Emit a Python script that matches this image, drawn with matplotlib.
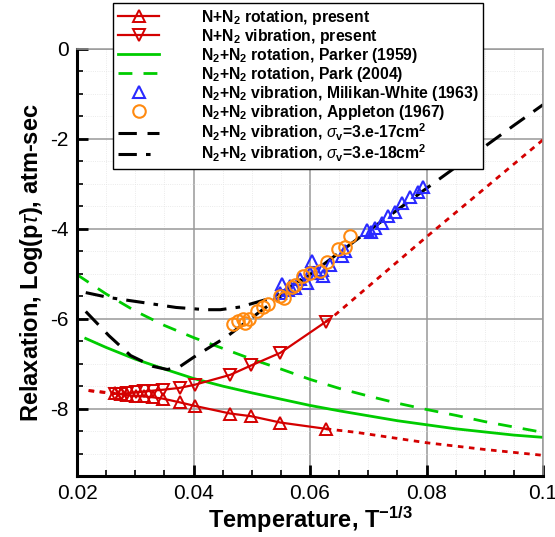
import numpy as np
import matplotlib
matplotlib.use('Agg')
import matplotlib.pyplot as plt
from matplotlib.legend_handler import HandlerLine2D
from matplotlib.ticker import MultipleLocator

plt.rcParams['font.family'] = ['Liberation Sans', 'DejaVu Sans']
plt.rcParams['mathtext.fontset'] = 'custom'
plt.rcParams['mathtext.rm'] = 'Liberation Sans'
plt.rcParams['mathtext.bf'] = 'Liberation Sans:bold'
plt.rcParams['mathtext.it'] = 'Liberation Sans:italic'

# N+N2 present results (solid with markers)
present_x = [0.0265, 0.0275, 0.0285, 0.0302, 0.0315, 0.0331, 0.0348, 0.0376, 0.0402,
             0.0463, 0.0499, 0.0549, 0.0627]
rot_y = [-7.66, -7.68, -7.70, -7.72, -7.73, -7.75, -7.78, -7.86, -7.94,
         -8.11, -8.17, -8.31, -8.45]
vib_y = [-7.67, -7.67, -7.66, -7.64, -7.62, -7.60, -7.58, -7.54, -7.47,
         -7.25, -7.04, -6.76, -6.07]

# dotted extrapolations
left_ext_x = [0.022, 0.0265]
rot_left_y = [-7.60, -7.66]
vib_left_y = [-7.60, -7.67]
rot_right_x = [0.0627, 0.068, 0.08, 0.09, 0.1]
rot_right_y = [-8.45, -8.53, -8.76, -8.91, -9.04]
vib_right_x = [0.0627, 0.064, 0.08, 0.1]
vib_right_y = [-6.07, -5.95, -4.18, -2.02]

# Parker (1959) rotation
parker_x = [0.0215, 0.025, 0.03, 0.035, 0.04, 0.045, 0.05, 0.055, 0.06, 0.065,
            0.07, 0.075, 0.08, 0.085, 0.09, 0.095, 0.1]
parker_y = [-6.44, -6.64, -6.90, -7.12, -7.33, -7.50, -7.65, -7.79, -7.93, -8.05,
            -8.16, -8.27, -8.36, -8.45, -8.52, -8.59, -8.64]

# Park (2004) rotation
park_x = [0.02, 0.025, 0.03, 0.035, 0.04, 0.045, 0.05, 0.055, 0.06, 0.065,
          0.07, 0.075, 0.08, 0.085, 0.09, 0.095, 0.1]
park_y = [-5.02, -5.45, -5.83, -6.15, -6.42, -6.66, -6.90, -7.12, -7.35, -7.55,
          -7.72, -7.88, -8.02, -8.15, -8.29, -8.41, -8.53]

# sigma_v = 3e-17 cm^2
s17_x = [0.0215, 0.0255, 0.0292, 0.033, 0.0355, 0.0375, 0.04, 0.0421, 0.0457, 0.05,
         0.055, 0.06, 0.065, 0.07, 0.075, 0.08, 0.085, 0.09, 0.095, 0.1]
s17_y = [-5.84, -6.38, -6.82, -7.06, -7.13, -7.08, -6.86, -6.69, -6.40, -5.98,
         -5.50, -5.02, -4.53, -4.05, -3.58, -3.10, -2.63, -2.17, -1.70, -1.24]

# sigma_v = 3e-18 cm^2
s18_x = [0.0215, 0.0255, 0.0313, 0.037, 0.0421, 0.0446, 0.048, 0.0531, 0.056, 0.0585]
s18_y = [-5.42, -5.53, -5.64, -5.75, -5.80, -5.80, -5.74, -5.55, -5.34, -5.12]

# Milikan-White (1963)
mw_x = [0.0549, 0.0552, 0.0562, 0.0566, 0.0574, 0.0583, 0.0595, 0.0600, 0.0603,
        0.0612, 0.0620, 0.0623, 0.0635, 0.0655, 0.0660, 0.0698, 0.0705, 0.0712,
        0.0724, 0.0734, 0.0746, 0.0758, 0.0772, 0.0786, 0.0794]
mw_y = [-5.42, -5.22, -5.36, -5.28, -5.31, -5.12, -5.20, -4.98, -4.72,
        -4.98, -4.92, -5.05, -4.80, -4.60, -4.50, -4.02, -4.08, -3.98,
        -3.87, -3.72, -3.62, -3.42, -3.30, -3.18, -3.08]

# Appleton (1967)
ap_x = [0.0468, 0.0477, 0.0485, 0.0489, 0.0495, 0.0509, 0.0519, 0.0528, 0.0549,
        0.0556, 0.0569, 0.0575, 0.0588, 0.0600, 0.0617, 0.0629, 0.0648, 0.0660, 0.0669]
ap_y = [-6.12, -6.05, -6.00, -6.10, -6.00, -5.82, -5.73, -5.68, -5.50,
        -5.55, -5.30, -5.26, -5.06, -4.98, -4.93, -4.73, -4.45, -4.40, -4.15]

red = '#d40000'
green = '#00cc00'
blue = '#2a2aff'
orange = '#ff8a10'


class EndMarker(HandlerLine2D):
    # marker at the right end of the legend line, Tecplot style
    def get_xdata(self, legend, xdescent, ydescent, width, height, fontsize):
        xdata = np.array([-xdescent, -xdescent + width])
        return xdata, np.array([-xdescent + 0.85 * width])


fig = plt.figure(figsize=(5.55, 5.37), dpi=100)
ax = fig.add_axes([77 / 555, 61 / 537, 466 / 555, 427 / 537])

ax.plot(left_ext_x, rot_left_y, color=red, lw=2, ls=(0, (2, 2)))
ax.plot(left_ext_x, vib_left_y, color=red, lw=2, ls=(0, (2, 2)))
ax.plot(rot_right_x, rot_right_y, color=red, lw=2, ls=(0, (2, 2)))
ax.plot(vib_right_x, vib_right_y, color=red, lw=2, ls=(0, (2, 2)))

ax.plot(parker_x, parker_y, color=green, lw=2, label=r'N$_\mathbf{2}$+N$_\mathbf{2}$ rotation, Parker (1959)')
ax.plot(park_x, park_y, color=green, lw=2, ls=(0, (5, 4)),
        label=r'N$_\mathbf{2}$+N$_\mathbf{2}$ rotation, Park (2004)')

l18, = ax.plot(s18_x, s18_y, color='black', lw=2.2, ls=(0, (6, 3, 1.5, 3)),
               label=r'N$_\mathbf{2}$+N$_\mathbf{2}$ vibration, $\sigma_\mathbf{v}$=3.e-18cm$^\mathbf{2}$')
l17, = ax.plot(s17_x, s17_y, color='black', lw=2.2, ls=(0, (6, 3.5)),
               label=r'N$_\mathbf{2}$+N$_\mathbf{2}$ vibration, $\sigma_\mathbf{v}$=3.e-17cm$^\mathbf{2}$')

ax.plot(mw_x, mw_y, ls='none', marker='^', ms=8, mfc='none', mec=blue, mew=1.5,
        label=r'N$_\mathbf{2}$+N$_\mathbf{2}$ vibration, Milikan-White (1963)')
ax.plot(ap_x, ap_y, ls='none', marker='o', ms=9, mfc='none', mec=orange, mew=1.5,
        label=r'N$_\mathbf{2}$+N$_\mathbf{2}$ vibration, Appleton (1967)')

ax.plot(present_x, rot_y, color=red, lw=1.6, marker='^', ms=8, mfc='none', mec=red, mew=1.4,
        label=r'N+N$_\mathbf{2}$ rotation, present')
ax.plot(present_x, vib_y, color=red, lw=1.6, marker='v', ms=8, mfc='none', mec=red, mew=1.4,
        label=r'N+N$_\mathbf{2}$ vibration, present')

ax.set_xlim(0.02, 0.1)
ax.set_ylim(-9.5, 0)
ax.set_xticks([0.02, 0.04, 0.06, 0.08, 0.1])
ax.set_xticklabels(['0.02', '0.04', '0.06', '0.08', '0.1'])
ax.set_yticks([0, -2, -4, -6, -8])
ax.set_yticklabels(['0', '-2', '-4', '-6', '-8'])
ax.xaxis.set_minor_locator(MultipleLocator(0.005))
ax.yaxis.set_minor_locator(MultipleLocator(0.5))
ax.tick_params(which='major', direction='in', length=8, width=2, labelsize=15, pad=6)
ax.tick_params(which='minor', direction='in', length=4, width=1.2)
ax.grid(which='major', color='#999999', lw=1.1)
ax.grid(which='minor', color='#e4e4e4', lw=0.6, ls=':')
ax.set_axisbelow(True)
for s in ['left', 'bottom']:
    ax.spines[s].set_linewidth(2.2)
    ax.spines[s].set_color('black')
for s in ['top', 'right']:
    ax.spines[s].set_linewidth(1.1)
    ax.spines[s].set_color('#999999')

ax.set_xlabel(r'Temperature, T$^{\mathbf{-1/3}}$', fontsize=17, fontweight='bold', labelpad=1)
ax.set_ylabel(r'Relaxation, Log(p$\tau$), atm-sec', fontsize=17, fontweight='bold', labelpad=4)

handles, labels = ax.get_legend_handles_labels()
order = [6, 7, 0, 1, 4, 5, 3, 2]
leg = fig.legend([handles[i] for i in order], [labels[i] for i in order],
                 loc='upper left', bbox_to_anchor=(113 / 555, 1 - 3 / 537),
                 prop={'weight': 'bold', 'size': 11.3}, frameon=True, fancybox=False,
                 framealpha=1, edgecolor='black', handlelength=2.65, handletextpad=2.65,
                 labelspacing=0.0, borderpad=0.3, borderaxespad=0,
                 handler_map={matplotlib.lines.Line2D: EndMarker()})
leg.get_frame().set_linewidth(1.0)

fig.savefig('out.png', dpi=100)
